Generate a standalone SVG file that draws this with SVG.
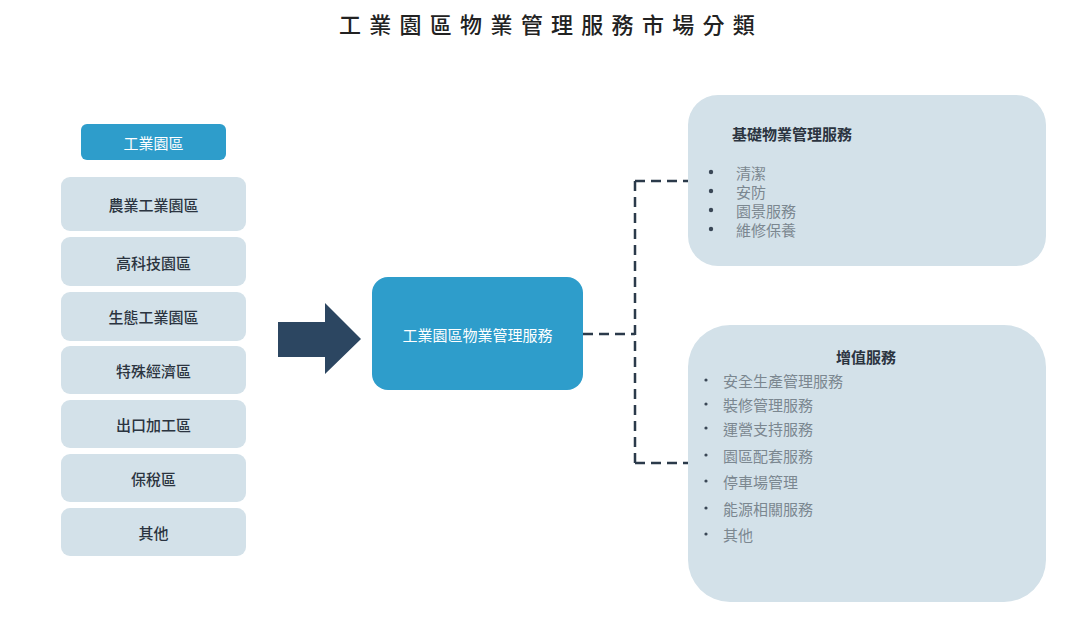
<svg xmlns="http://www.w3.org/2000/svg" width="1080" height="619" viewBox="0 0 1080 619">
<style>
text{font-family:"Noto Sans CJK TC","Noto Sans CJK SC",sans-serif;}
.title{font-size:22px;fill:#222;letter-spacing:8.3px;font-weight:500;}
.lbox{fill:#d3e1e9;}
.ltxt{font-size:15px;fill:#2b3440;text-anchor:middle;dominant-baseline:central;font-weight:500;}
.blue{fill:#2e9dcb;}
.wtxt{font-size:15px;fill:#fff;text-anchor:middle;dominant-baseline:central;}
.head{font-size:15px;fill:#2b3440;font-weight:700;dominant-baseline:central;}
.item{font-size:15px;fill:#7b8790;dominant-baseline:central;}
.dot{fill:#3a4756;}
.conn{fill:none;stroke:#2b3a4a;stroke-width:2.5;stroke-dasharray:10 6;}
</style>
<rect width="1080" height="619" fill="#fff"/>
<text class="title" x="551" y="23" text-anchor="middle" dominant-baseline="central">工業園區物業管理服務市場分類</text>

<g id="head-park"><rect class="blue" x="81" y="124" width="145" height="36" rx="6"/><text class="wtxt" x="153.5" y="142">工業園區</text></g>
<g id="n1"><rect class="lbox" x="61" y="177" width="185" height="54" rx="9"/><text class="ltxt" x="153.5" y="204">農業工業園區</text></g>
<g id="n2"><rect class="lbox" x="61" y="237" width="185" height="49" rx="9"/><text class="ltxt" x="153.5" y="262">高科技園區</text></g>
<g id="n3"><rect class="lbox" x="61" y="292" width="185" height="49" rx="9"/><text class="ltxt" x="153.5" y="316">生態工業園區</text></g>
<g id="n4"><rect class="lbox" x="61" y="346" width="185" height="48" rx="9"/><text class="ltxt" x="153.5" y="370">特殊經濟區</text></g>
<g id="n5"><rect class="lbox" x="61" y="400" width="185" height="48" rx="9"/><text class="ltxt" x="153.5" y="424">出口加工區</text></g>
<g id="n6"><rect class="lbox" x="61" y="454" width="185" height="48" rx="9"/><text class="ltxt" x="153.5" y="478">保稅區</text></g>
<g id="n7"><rect class="lbox" x="61" y="508" width="185" height="48" rx="9"/><text class="ltxt" x="153.5" y="532">其他</text></g>

<g id="big-arrow"><polygon points="278,322 325,322 325,303 361,339 325,374 325,357 278,357" fill="#2c4661"/></g>

<g id="center"><rect class="blue" x="372" y="277" width="211" height="113" rx="16"/><text class="wtxt" x="477.5" y="334">工業園區物業管理服務</text></g>

<g id="connectors">
<path class="conn" d="M583 334 H635"/>
<path class="conn" d="M635 181 V463"/>
<path class="conn" d="M635 181 H688"/>
<path class="conn" d="M635 463 H688"/>
</g>

<g id="basic">
<rect class="lbox" x="688" y="95" width="358" height="171" rx="30"/>
<text class="head" x="732" y="133">基礎物業管理服務</text>
<circle class="dot" cx="711" cy="172" r="2.2"/><text class="item" x="736" y="172">清潔</text>
<circle class="dot" cx="711" cy="191" r="2.2"/><text class="item" x="736" y="191">安防</text>
<circle class="dot" cx="711" cy="210" r="2.2"/><text class="item" x="736" y="210">園景服務</text>
<circle class="dot" cx="711" cy="229" r="2.2"/><text class="item" x="736" y="229">維修保養</text>
</g>

<g id="value">
<rect class="lbox" x="688" y="325" width="358" height="277" rx="42"/>
<text class="head" x="866" y="356" text-anchor="middle">增值服務</text>
<circle class="dot" cx="706" cy="380" r="1.6"/><text class="item" x="723" y="380">安全生產管理服務</text>
<circle class="dot" cx="706" cy="404" r="1.6"/><text class="item" x="723" y="404">裝修管理服務</text>
<circle class="dot" cx="706" cy="428" r="1.6"/><text class="item" x="723" y="428">運營支持服務</text>
<circle class="dot" cx="706" cy="455" r="1.6"/><text class="item" x="723" y="455">園區配套服務</text>
<circle class="dot" cx="706" cy="481" r="1.6"/><text class="item" x="723" y="481">停車場管理</text>
<circle class="dot" cx="706" cy="508" r="1.6"/><text class="item" x="723" y="508">能源相關服務</text>
<circle class="dot" cx="706" cy="534" r="1.6"/><text class="item" x="723" y="534">其他</text>
</g>
</svg>
